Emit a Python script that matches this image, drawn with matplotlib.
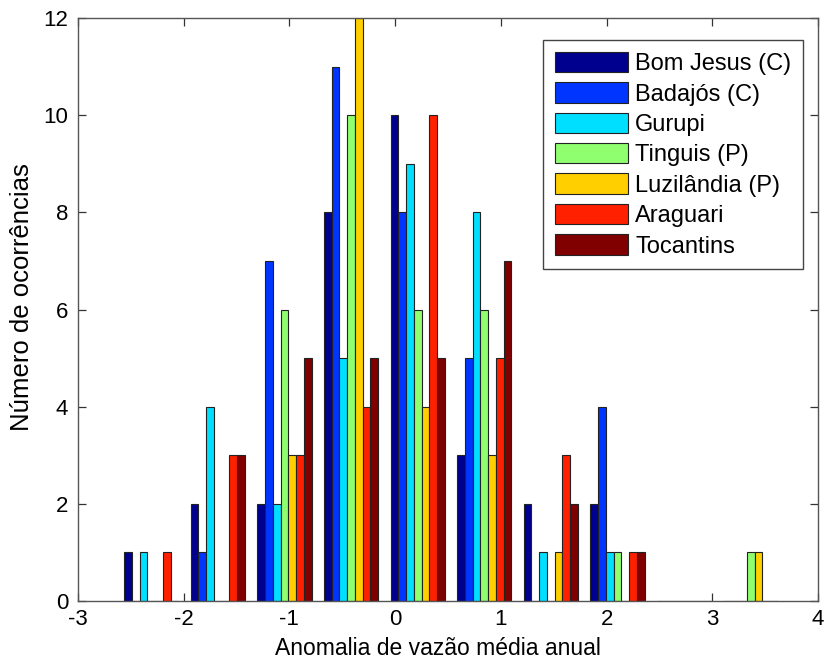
import numpy as np
import matplotlib.pyplot as plt

plt.rcParams['font.family'] = ['Liberation Sans', 'DejaVu Sans']
plt.rcParams['axes.unicode_minus'] = False

# bin centres of the annual-flow anomaly histogram
bin_centers = [-2.307, -1.677, -1.047, -0.417, 0.213, 0.843, 1.473, 2.103, 2.733, 3.363]

stations = ['Bom Jesus (C)', 'Badajós (C)', 'Gurupi', 'Tinguis (P)',
            'Luzilândia (P)', 'Araguari', 'Tocantins']

bom_jesus  = [1, 2, 2, 8, 10, 3, 2, 2, 0, 0]
badajos    = [0, 1, 7, 11, 8, 5, 0, 4, 0, 0]
gurupi     = [1, 4, 2, 5, 9, 8, 1, 1, 0, 0]
tinguis    = [0, 0, 6, 10, 6, 6, 0, 1, 0, 1]
luzilandia = [0, 0, 3, 12, 4, 3, 1, 0, 0, 1]
araguari   = [1, 3, 3, 4, 10, 5, 3, 1, 0, 0]
tocantins  = [0, 3, 5, 5, 5, 7, 2, 1, 0, 0]

counts = [bom_jesus, badajos, gurupi, tinguis, luzilandia, araguari, tocantins]

colors = ['#00008F', '#0035FF', '#00DFFF', '#8FFF70', '#FFCF00', '#FF2000', '#800000']

fs = 16

fig = plt.figure(figsize=(8.25, 6.63), dpi=100)
ax = fig.add_axes([78 / 825, 1 - 601 / 663, 740 / 825, 583 / 663])

w = 0.0734
x = np.array(bin_centers)
for i, (name, c, col) in enumerate(zip(stations, counts, colors)):
    ax.bar(x + (i - 3) * w, c, width=w, color=col, edgecolor='#222222',
           linewidth=0.8, label=name, zorder=2)

ax.set_xlim(-3, 4)
ax.set_ylim(0, 12)
ax.set_xticks(range(-3, 5))
ax.set_yticks(range(0, 13, 2))

for s in ax.spines.values():
    s.set_color('#555555')
    s.set_linewidth(1.0)
ax.tick_params(direction='in', length=6, width=0.9, color='#333333',
               top=True, right=True, labelsize=fs)
ax.tick_params(axis='x', pad=6)
ax.tick_params(axis='y', pad=7)

ax.set_xlabel('Anomalia de vazão média anual', fontsize=16.5)
ax.set_ylabel('Número de ocorrências', fontsize=18.5)
ax.xaxis.set_label_coords(0.486, -0.061)
ax.yaxis.set_label_coords(-0.059, 0.522)

leg = ax.legend(loc='upper right', bbox_to_anchor=(0.98, 0.962), fontsize=17,
                fancybox=False, framealpha=1, edgecolor='#444444',
                handlelength=3.1, handleheight=0.95, handletextpad=0.3,
                labelspacing=0.3, borderpad=0.5, borderaxespad=0)
leg.get_frame().set_linewidth(1.0)

fig.savefig('out.png', dpi=100)
